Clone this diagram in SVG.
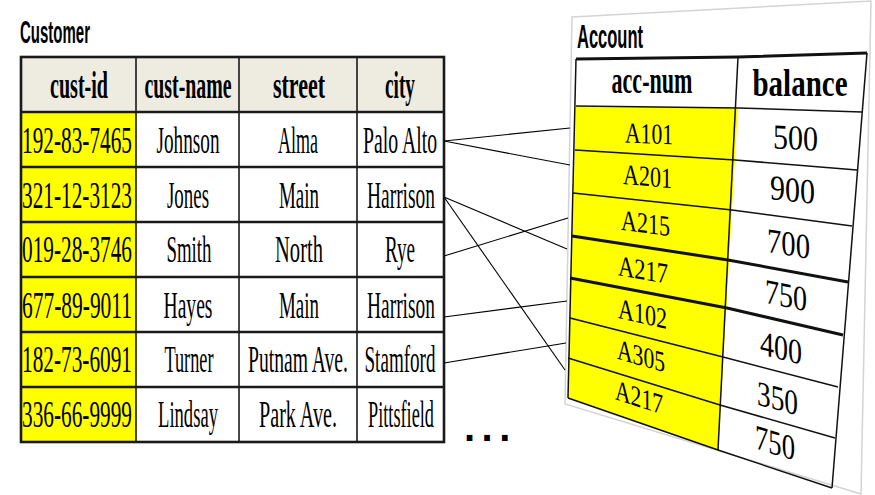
<svg xmlns="http://www.w3.org/2000/svg" width="875" height="495" viewBox="0 0 875 495">
<style>
.title{font-family:"Liberation Sans",Arial,sans-serif;font-weight:bold;fill:#000}
.hd{font-family:"Liberation Serif","Times New Roman",serif;font-weight:bold;font-size:37px;text-anchor:middle;fill:#000}
.cell{font-family:"Liberation Serif","Times New Roman",serif;font-size:37px;text-anchor:middle;fill:#000}
.acc{font-family:"Liberation Serif","Times New Roman",serif;font-size:29px;text-anchor:middle;fill:#000}
.bal{font-family:"Liberation Serif","Times New Roman",serif;font-size:35px;text-anchor:middle;fill:#000}
.hline{stroke:#1a1a1a;stroke-width:2.6;fill:none}
.vline{stroke:#1a1a1a;stroke-width:1.6;fill:none}
.thin{stroke:#111;stroke-width:1.5;fill:none}
.thick{stroke:#111;stroke-width:3;fill:none}
.conn{stroke:#000;stroke-width:1.1;fill:none}
</style>
<rect width="875" height="495" fill="#fff"/>

<g id="customer">
  <text class="title" x="20" y="43" font-size="31" textLength="70" lengthAdjust="spacingAndGlyphs">Customer</text>
  <rect x="21" y="57" width="423" height="55" fill="#EEECE1"/>
  <rect x="21" y="112" width="115" height="330" fill="#FFFF00"/>
  <g id="customer-grid">
    <line class="vline" x1="136" y1="57" x2="136" y2="442"/>
    <line class="vline" x1="239" y1="57" x2="239" y2="442"/>
    <line class="vline" x1="357" y1="57" x2="357" y2="442"/>
    <line class="hline" x1="21" y1="112" x2="444" y2="112"/>
    <line class="hline" x1="21" y1="167" x2="444" y2="167"/>
    <line class="hline" x1="21" y1="222" x2="444" y2="222"/>
    <line class="hline" x1="21" y1="277" x2="444" y2="277"/>
    <line class="hline" x1="21" y1="332" x2="444" y2="332"/>
    <line class="hline" x1="21" y1="387" x2="444" y2="387"/>
    <rect x="21" y="57" width="423" height="385" fill="none" stroke="#1a1a1a" stroke-width="2.6"/>
  </g>
  <g id="customer-header">
    <text class="hd" x="79" y="98" textLength="58" lengthAdjust="spacingAndGlyphs">cust-id</text>
    <text class="hd" x="188" y="98" textLength="87" lengthAdjust="spacingAndGlyphs">cust-name</text>
    <text class="hd" x="299" y="98" textLength="52" lengthAdjust="spacingAndGlyphs">street</text>
    <text class="hd" x="400" y="98" textLength="30" lengthAdjust="spacingAndGlyphs">city</text>
  </g>
  <g id="customer-row1">
    <text class="cell" x="77" y="153" textLength="110" lengthAdjust="spacingAndGlyphs">192-83-7465</text>
    <text class="cell" x="188" y="153" textLength="63" lengthAdjust="spacingAndGlyphs">Johnson</text>
    <text class="cell" x="298" y="153" textLength="40" lengthAdjust="spacingAndGlyphs">Alma</text>
    <text class="cell" x="400" y="153" textLength="74" lengthAdjust="spacingAndGlyphs">Palo Alto</text>
  </g>
  <g id="customer-row2">
    <text class="cell" x="77" y="208" textLength="110" lengthAdjust="spacingAndGlyphs">321-12-3123</text>
    <text class="cell" x="188" y="208" textLength="42" lengthAdjust="spacingAndGlyphs">Jones</text>
    <text class="cell" x="299" y="208" textLength="40" lengthAdjust="spacingAndGlyphs">Main</text>
    <text class="cell" x="401" y="208" textLength="68" lengthAdjust="spacingAndGlyphs">Harrison</text>
  </g>
  <g id="customer-row3">
    <text class="cell" x="77" y="262" textLength="110" lengthAdjust="spacingAndGlyphs">019-28-3746</text>
    <text class="cell" x="189" y="262" textLength="45" lengthAdjust="spacingAndGlyphs">Smith</text>
    <text class="cell" x="299" y="262" textLength="48" lengthAdjust="spacingAndGlyphs">North</text>
    <text class="cell" x="400" y="262" textLength="30" lengthAdjust="spacingAndGlyphs">Rye</text>
  </g>
  <g id="customer-row4">
    <text class="cell" x="77" y="318" textLength="110" lengthAdjust="spacingAndGlyphs">677-89-9011</text>
    <text class="cell" x="188" y="318" textLength="49" lengthAdjust="spacingAndGlyphs">Hayes</text>
    <text class="cell" x="299" y="318" textLength="40" lengthAdjust="spacingAndGlyphs">Main</text>
    <text class="cell" x="401" y="318" textLength="68" lengthAdjust="spacingAndGlyphs">Harrison</text>
  </g>
  <g id="customer-row5">
    <text class="cell" x="77" y="372" textLength="110" lengthAdjust="spacingAndGlyphs">182-73-6091</text>
    <text class="cell" x="189" y="372" textLength="49" lengthAdjust="spacingAndGlyphs">Turner</text>
    <text class="cell" x="298" y="372" textLength="100" lengthAdjust="spacingAndGlyphs">Putnam Ave.</text>
    <text class="cell" x="400" y="372" textLength="71" lengthAdjust="spacingAndGlyphs">Stamford</text>
  </g>
  <g id="customer-row6">
    <text class="cell" x="77" y="427" textLength="110" lengthAdjust="spacingAndGlyphs">336-66-9999</text>
    <text class="cell" x="188" y="427" textLength="60" lengthAdjust="spacingAndGlyphs">Lindsay</text>
    <text class="cell" x="298" y="427" textLength="78" lengthAdjust="spacingAndGlyphs">Park Ave.</text>
    <text class="cell" x="401" y="427" textLength="66" lengthAdjust="spacingAndGlyphs">Pittsfield</text>
  </g>
</g>

<g id="ellipsis">
  <text class="title" x="464" y="441" font-size="40" letter-spacing="6.5">...</text>
</g>

<g id="account">
  <polygon points="572,17 871,1 861,494 565,404" fill="#fff" stroke="#d4d4d4" stroke-width="1.5"/>
  <text class="title" x="577" y="48" font-size="34" textLength="66" lengthAdjust="spacingAndGlyphs">Account</text>
  <polygon points="576,106 738,108 718,450 568,398" fill="#FFFF00"/>
  <g id="account-grid">
    <polyline class="thick" points="576,59 738,57 867,53"/>
    <polyline class="thin" points="576,106 738,108 862,112"/>
    <polyline class="thin" points="575,150 735,160 857,170"/>
    <polyline class="thin" points="573,193 732,210 852,226"/>
    <polyline class="thick" points="572,236 728,260 848,282"/>
    <polyline class="thick" points="570,278 727,308 843,335"/>
    <polyline class="thin" points="570,318 723,357 838,387"/>
    <polyline class="thin" points="568,358 720,405 835,438"/>
    <polyline class="thin" points="568,398 718,450 832,488"/>
    <line class="thin" x1="576" y1="59" x2="568" y2="398"/>
    <line class="thin" x1="738" y1="57" x2="718" y2="450"/>
    <line class="thin" x1="867" y1="53" x2="832" y2="488"/>
  </g>
  <g id="account-header">
    <text class="hd" x="652" y="93" font-size="33" textLength="81" lengthAdjust="spacingAndGlyphs">acc-num</text>
    <text class="hd" x="800" y="96" font-size="35" textLength="95" lengthAdjust="spacingAndGlyphs">balance</text>
  </g>
  <g id="account-accnum">
    <text class="acc" x="649" y="143.5" transform="translate(649 0) skewY(2.2) translate(-649 0)" textLength="48" lengthAdjust="spacingAndGlyphs">A101</text>
    <text class="acc" x="647.5" y="186" transform="translate(647.5 0) skewY(4.9) translate(-647.5 0)" textLength="49" lengthAdjust="spacingAndGlyphs">A201</text>
    <text class="acc" x="645.5" y="233" transform="translate(645.5 0) skewY(7.4) translate(-645.5 0)" textLength="49" lengthAdjust="spacingAndGlyphs">A215</text>
    <text class="acc" x="643" y="279.5" transform="translate(643 0) skewY(9.8) translate(-643 0)" textLength="50" lengthAdjust="spacingAndGlyphs">A217</text>
    <text class="acc" x="642.5" y="323.5" transform="translate(642.5 0) skewY(12.5) translate(-642.5 0)" textLength="49" lengthAdjust="spacingAndGlyphs">A102</text>
    <text class="acc" x="641" y="365.5" transform="translate(641 0) skewY(15.7) translate(-641 0)" textLength="48" lengthAdjust="spacingAndGlyphs">A305</text>
    <text class="acc" x="639" y="407" transform="translate(639 0) skewY(18) translate(-639 0)" textLength="48" lengthAdjust="spacingAndGlyphs">A217</text>
  </g>
  <g id="account-balance">
    <text class="bal" x="795.5" y="149.5" transform="translate(795.5 0) skewY(3.2) translate(-795.5 0)" textLength="45" lengthAdjust="spacingAndGlyphs">500</text>
    <text class="bal" x="792.5" y="201.5" transform="translate(792.5 0) skewY(6.2) translate(-792.5 0)" textLength="45" lengthAdjust="spacingAndGlyphs">900</text>
    <text class="bal" x="788.5" y="255.5" transform="translate(788.5 0) skewY(9) translate(-788.5 0)" textLength="43" lengthAdjust="spacingAndGlyphs">700</text>
    <text class="bal" x="786" y="307" transform="translate(786 0) skewY(11.7) translate(-786 0)" textLength="42" lengthAdjust="spacingAndGlyphs">750</text>
    <text class="bal" x="781" y="359.5" transform="translate(781 0) skewY(13.9) translate(-781 0)" textLength="42" lengthAdjust="spacingAndGlyphs">400</text>
    <text class="bal" x="777.5" y="410" transform="translate(777.5 0) skewY(15.3) translate(-777.5 0)" textLength="41" lengthAdjust="spacingAndGlyphs">350</text>
    <text class="bal" x="775" y="454.5" transform="translate(775 0) skewY(17.2) translate(-775 0)" textLength="40" lengthAdjust="spacingAndGlyphs">750</text>
  </g>
</g>

<g id="connectors">
  <line class="conn" x1="444" y1="141" x2="570" y2="128"/>
  <line class="conn" x1="444" y1="141" x2="570" y2="165"/>
  <line class="conn" x1="444" y1="197" x2="567" y2="249"/>
  <line class="conn" x1="444" y1="197" x2="565" y2="370"/>
  <line class="conn" x1="444" y1="256" x2="568" y2="218"/>
  <line class="conn" x1="444" y1="317" x2="567" y2="301"/>
  <line class="conn" x1="444" y1="363" x2="566" y2="343"/>
</g>
</svg>
